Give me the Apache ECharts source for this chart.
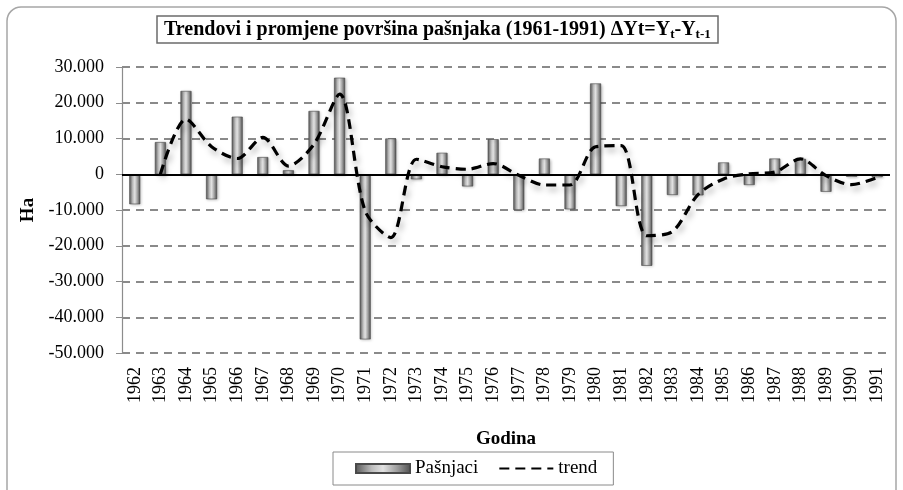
<!DOCTYPE html>
<html>
<head>
<meta charset="utf-8">
<script src="https://cdn.jsdelivr.net/npm/echarts@6/dist/echarts.min.js"></script>
<style>
  html, body { margin: 0; padding: 0; background: #fff; }
  #chart { width: 903px; height: 490px; }
</style>
</head>
<body>
<div id="chart"></div>
<script>
// godine (1962-1991)
const years = ['1962', '1963', '1964', '1965', '1966', '1967', '1968', '1969', '1970', '1971',
  '1972', '1973', '1974', '1975', '1976', '1977', '1978', '1979', '1980', '1981',
  '1982', '1983', '1984', '1985', '1986', '1987', '1988', '1989', '1990', '1991'];

// promjena površine pašnjaka, ha
const pasnjaci = [-8400, 9000, 23300, -7000, 16100, 4800, 1100, 17700, 27000, -46200,
  10000, -1400, 6000, -3400, 9800, -10000, 4400, -9800, 25400, -8900,
  -25600, -5800, -5900, 3300, -3000, 4400, 4300, -4900, -700, -800];

// trend linija (očitano s grafikona)
const trend = [null, 0, 15400, 7700, 4400, 10300, 2300, 8400, 22400, -10300,
  -17700, 4200, 2100, 1400, 3000, -300, -3000, -3000, 7700, 8000,
  -17200, -16000, -5700, -1300, 100, 600, 4300, -400, -2900, -900];

const yTicks = { min: -50000, max: 30000, step: 10000 };

const serif = '"Liberation Serif", "Times New Roman", serif';

let myChart = echarts.init(document.getElementById('chart'), null, { renderer: 'canvas' });

const barGradient = new echarts.graphic.LinearGradient(0, 0, 1, 0, [
  { offset: 0, color: '#555555' },
  { offset: 0.3, color: '#bdbdbd' },
  { offset: 0.5, color: '#e2e2e2' },
  { offset: 0.75, color: '#9e9e9e' },
  { offset: 1, color: '#4e4e4e' }
]);

const option = {
  animation: false,
  graphic: [{
    type: 'rect',
    shape: { x: 7, y: 7, width: 889, height: 500, r: 14 },
    style: { fill: 'none', stroke: '#a6a6a6', lineWidth: 1.5 },
    silent: true,
    z: -1
  }],
  title: {
    show: true,
    text: '{a|Trendovi i promjene površina pašnjaka (1961-1991) ΔYt=Y}{s|t}{a|-Y}{s|t-1}',
    left: 157,
    top: 14,
    padding: [3, 7, 2, 7],
    borderColor: '#6b6b6b',
    borderWidth: 1.5,
    textStyle: {
      rich: {
        a: { fontFamily: serif, fontSize: 20, fontWeight: 'bold', color: '#000', lineHeight: 26 },
        s: { fontFamily: serif, fontSize: 13, fontWeight: 'bold', color: '#000', lineHeight: 26, padding: [10, 0, 0, 0] }
      }
    }
  },
  legend: {
    left: 333,
    top: 452,
    width: 283,
    padding: [7, 16, 7, 22],
    borderColor: '#8a8a8a',
    borderWidth: 1,
    itemGap: 20,
    itemWidth: 54,
    itemHeight: 9,
    textStyle: { fontFamily: serif, fontSize: 19, color: '#000' },
    data: [
      { name: 'Pašnjaci', icon: 'rect' },
      { name: 'trend', itemStyle: { opacity: 0 } }
    ]
  },
  grid: {
    left: 122,
    right: 13,
    top: 67,
    bottom: 137
  },
  xAxis: [{
    type: 'category',
    data: years,
    axisLine: { show: false, onZero: false },
    axisTick: { show: false },
    splitLine: { show: false },
    axisLabel: {
      rotate: 90,
      margin: 14,
      fontFamily: serif,
      fontSize: 18,
      color: '#000',
      interval: 0
    },
    name: 'Godina',
    nameLocation: 'middle',
    nameGap: 77,
    nameTextStyle: { fontFamily: serif, fontSize: 19, fontWeight: 'bold', color: '#000' }
  }],
  yAxis: [{
    type: 'value',
    min: yTicks.min,
    max: yTicks.max,
    interval: yTicks.step,
    axisLine: { show: true, lineStyle: { color: '#8c8c8c', width: 1.2 } },
    axisTick: { show: true, length: 6, lineStyle: { color: '#8c8c8c' } },
    splitLine: {
      show: true,
      lineStyle: { color: '#8a8a8a', width: 2, type: [8, 6] }
    },
    axisLabel: {
      margin: 18,
      fontFamily: serif,
      fontSize: 18,
      color: '#000',
      formatter: function (v) {
        if (v === 0) {
          return '0';
        }
        return (v < 0 ? '-' : '') + Math.abs(v / 1000) + '.000';
      }
    },
    name: 'Ha',
    nameLocation: 'middle',
    nameGap: 84,
    nameRotate: 90,
    nameTextStyle: { fontFamily: serif, fontSize: 19, fontWeight: 'bold', color: '#000' }
  }],
  series: [{
    name: 'Pašnjaci',
    type: 'bar',
    data: pasnjaci,
    barWidth: 11,
    itemStyle: {
      color: barGradient,
      borderColor: '#4a4a4a',
      borderWidth: 0.6,
      shadowColor: 'rgba(0,0,0,0.25)',
      shadowBlur: 3,
      shadowOffsetX: 1,
      shadowOffsetY: 1
    },
    markLine: {
      silent: true,
      symbol: 'none',
      label: { show: false },
      lineStyle: { color: '#000', width: 2.2, type: 'solid' },
      data: [{ yAxis: 0 }],
      z: 3
    },
    z: 2
  }, {
    name: 'trend',
    type: 'line',
    data: trend,
    smooth: 0.3,
    showSymbol: false,
    symbol: 'none',
    connectNulls: false,
    lineStyle: {
      color: '#000',
      width: 3.2,
      type: [10, 6],
      shadowColor: 'rgba(0,0,0,0.35)',
      shadowBlur: 6,
      shadowOffsetX: 2,
      shadowOffsetY: 4
    },
    itemStyle: { color: '#000' },
    z: 4
  }]
};

myChart.setOption(option, true);
</script>
</body>
</html>
